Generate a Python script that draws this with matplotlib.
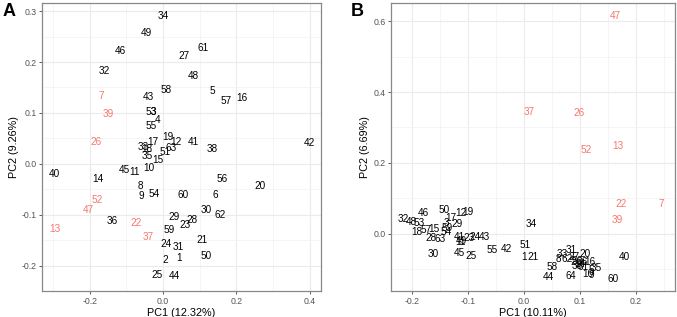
import matplotlib
matplotlib.use('Agg')
import matplotlib.pyplot as plt
import numpy as np

plt.rcParams['font.family'] = ['Liberation Sans', 'DejaVu Sans']

sample_ids = list(range(1, 64))
outliers = [7, 13, 22, 26, 37, 39, 47, 52]

# Panel A: PCA scores
pc1_a = [0.044, 0.005, -0.026, -0.016, 0.136, 0.142, -0.169, -0.063, -0.06, -0.038,
         -0.079, 0.035, -0.295, -0.177, -0.014, 0.215, -0.027, -0.044, 0.014, 0.265,
         0.106, -0.074, 0.06, 0.008, -0.016, -0.183, 0.057, 0.079, 0.03, 0.117,
         0.041, -0.161, -0.055, 0.0, -0.044, -0.139, -0.041, 0.134, -0.15, -0.295,
         0.082, 0.398, -0.04, 0.03, -0.106, -0.117, -0.204, 0.082, -0.046, 0.117,
         0.005, -0.18, -0.033, -0.025, -0.033, 0.161, 0.172, 0.008, 0.016, 0.055,
         0.109, 0.155, 0.022]
pc2_a = [-0.186, -0.189, 0.101, 0.086, 0.143, -0.062, 0.133, -0.043, -0.064, -0.008,
         -0.016, 0.043, -0.129, -0.029, 0.008, 0.129, 0.043, 0.029, 0.053, -0.043,
         -0.15, -0.117, -0.121, -0.158, -0.219, 0.043, 0.211, -0.111, -0.105, -0.09,
         -0.164, 0.182, 0.033, 0.291, 0.016, -0.113, -0.143, 0.029, 0.098, -0.02,
         0.043, 0.041, 0.131, -0.221, -0.012, 0.221, -0.09, 0.172, 0.258, -0.182,
         0.023, -0.072, 0.101, -0.06, 0.074, -0.029, 0.123, 0.146, -0.131, -0.062,
         0.227, -0.1, 0.031]

# Panel B: PCA scores
pc1_b = [0.0, 0.0875, -0.139, 0.0875, 0.121, 0.08, 0.246, 0.061, 0.121, 0.114,
         -0.1125, -0.1125, 0.168, 0.1, -0.161, 0.118, -0.13, -0.191, -0.1, 0.109,
         0.016, 0.173, -0.098, -0.0875, -0.095, 0.098, 0.089, -0.166, -0.12, -0.1625,
         0.084, -0.216, 0.068, 0.0125, 0.13, 0.105, 0.009, 0.096, 0.166, 0.179,
         -0.116, -0.032, -0.071, 0.043, -0.116, -0.18, 0.1625, -0.202, -0.111, -0.143,
         0.002, 0.111, -0.1875, -0.139, -0.057, 0.096, -0.175, 0.05, -0.1375, 0.159,
         0.105, 0.077, -0.15]
pc2_b = [-0.065, -0.079, 0.031, -0.118, -0.101, -0.118, 0.085, -0.07, -0.115, -0.113,
         -0.023, 0.059, 0.248, -0.085, 0.014, -0.079, 0.045, 0.006, 0.062, -0.056,
         -0.065, 0.085, -0.011, -0.008, -0.062, 0.341, -0.065, -0.011, 0.028, -0.056,
         -0.045, 0.042, -0.056, 0.028, -0.096, -0.079, 0.344, -0.09, 0.039, -0.065,
         -0.008, -0.042, -0.008, -0.121, -0.054, 0.059, 0.614, 0.034, -0.02, 0.068,
         -0.031, 0.237, 0.031, 0.006, -0.045, -0.076, 0.011, -0.093, 0.017, -0.127,
         -0.093, -0.07, -0.014]

xlabel_a, ylabel_a = 'PC1 (12.32%)', 'PC2 (9.26%)'
xlabel_b, ylabel_b = 'PC1 (10.11%)', 'PC2 (6.69%)'

RED = '#F8766D'


def draw_panel(ax, xs, ys, xlim, ylim, xmaj, xmin, ymaj, ymin, xlabel, ylabel):
    ax.set_xlim(xlim)
    ax.set_ylim(ylim)
    ax.set_xticks(xmaj)
    ax.set_xticks(xmin, minor=True)
    ax.set_yticks(ymaj)
    ax.set_yticks(ymin, minor=True)
    ax.set_xticklabels([f'{v:.1f}' for v in xmaj])
    ax.set_yticklabels([f'{v:.1f}' for v in ymaj])
    ax.grid(True, which='major', color='#ebebeb', linewidth=0.8)
    ax.grid(True, which='minor', color='#f2f2f2', linewidth=0.5)
    ax.set_axisbelow(True)
    for s in ax.spines.values():
        s.set_color('#888888')
        s.set_linewidth(0.9)
    ax.tick_params(which='major', length=2.5, width=0.6, color='#444444',
                   labelsize=6.3, labelcolor='#555555', pad=1.5)
    ax.tick_params(which='minor', length=0)
    for sid, x, y in zip(sample_ids, xs, ys):
        c = RED if sid in outliers else 'black'
        ax.text(x, y, str(sid), ha='center', va='center', fontsize=7.2, color=c)
    ax.set_xlabel(xlabel, fontsize=7.8, labelpad=1.5)
    ax.set_ylabel(ylabel, fontsize=7.8, labelpad=2)


fig = plt.figure(figsize=(6.77, 3.17), dpi=100)
ax_a = fig.add_axes([42 / 677, 26 / 317, 279 / 677, 288 / 317])
ax_b = fig.add_axes([391 / 677, 26 / 317, 284 / 677, 288 / 317])

draw_panel(ax_a, pc1_a, pc2_a, (-0.33, 0.431), (-0.246, 0.316),
           [-0.2, 0.0, 0.2, 0.4], [-0.3, -0.1, 0.1, 0.3],
           [-0.2, -0.1, 0.0, 0.1, 0.2, 0.3], [-0.25, -0.15, -0.05, 0.05, 0.15, 0.25],
           xlabel_a, ylabel_a)
draw_panel(ax_b, pc1_b, pc2_b, (-0.2375, 0.27), (-0.161, 0.651),
           [-0.2, -0.1, 0.0, 0.1, 0.2], [-0.15, -0.05, 0.05, 0.15, 0.25],
           [0.0, 0.2, 0.4, 0.6], [-0.1, 0.1, 0.3, 0.5],
           xlabel_b, ylabel_b)

fig.text(3 / 677, 1 - 12 / 317, 'A', fontsize=13, fontweight='bold', va='center', ha='left')
fig.text(351 / 677, 1 - 12 / 317, 'B', fontsize=13, fontweight='bold', va='center', ha='left')

fig.savefig('out.png', dpi=100)
